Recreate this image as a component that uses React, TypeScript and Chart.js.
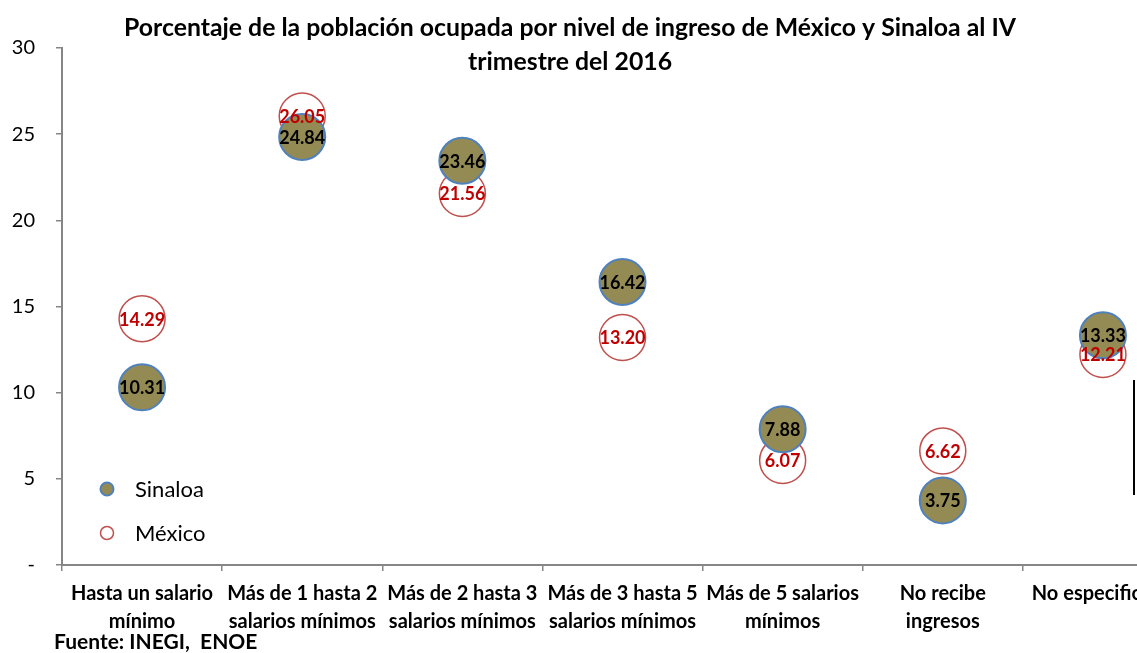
import React, { useEffect, useRef } from "react";
import { Chart, registerables } from "chart.js";
Chart.register(...registerables);

const categories: string[][] = [
  ["Hasta un salario", "mínimo"],
  ["Más de 1 hasta 2", "salarios mínimos"],
  ["Más de 2 hasta 3", "salarios mínimos"],
  ["Más de 3 hasta 5", "salarios mínimos"],
  ["Más de 5 salarios", "mínimos"],
  ["No recibe", "ingresos"],
  ["No especificado"],
];
const sinaloa = [10.31, 24.84, 23.46, 16.42, 7.88, 3.75, 13.33];
const mexico = [14.29, 26.05, 21.56, 13.2, 6.07, 6.62, 12.21];
const yTicks = [0, 5, 10, 15, 20, 25, 30];
const seriesNames = ["Sinaloa", "México"];
const titleLines = [
  "Porcentaje de la población ocupada por nivel de ingreso de México y Sinaloa al IV",
  "trimestre del 2016",
];
const sourceText = "Fuente: INEGI,  ENOE";

const FONT = "Lato, 'Open Sans', 'DejaVu Sans', sans-serif";
const OLIVE = "#948A54";
const BLUE = "#4F81BD";
const RED = "#C0504D";
const DARKRED = "#C00000";
const AXIS = "#868686";

const decorPlugin = {
  id: "decor",
  afterDatasetsDraw(chart: any) {
    const ctx = chart.ctx;
    ctx.save();
    ctx.textAlign = "center";
    ctx.textBaseline = "middle";
    ctx.font = `bold 18px ${FONT}`;
    const order = [1, 0];
    order.forEach((di) => {
      const meta = chart.getDatasetMeta(di);
      const vals = di === 0 ? sinaloa : mexico;
      ctx.fillStyle = di === 0 ? "#000000" : DARKRED;
      meta.data.forEach((el: any, i: number) => {
        ctx.fillText(vals[i].toFixed(2), el.x, el.y + 1);
      });
    });
    ctx.restore();
  },
  afterDraw(chart: any) {
    const ctx = chart.ctx;
    ctx.save();
    ctx.fillStyle = "#000";
    ctx.textAlign = "center";
    ctx.textBaseline = "middle";
    ctx.font = `bold 24.8px ${FONT}`;
    ctx.fillText(titleLines[0], 570, 28);
    ctx.fillText(titleLines[1], 570, 62);
    const items = [
      { y: 489, fill: OLIVE, stroke: BLUE, lw: 2 },
      { y: 533, fill: "#ffffff", stroke: RED, lw: 1.5 },
    ];
    items.forEach((it, i) => {
      ctx.beginPath();
      ctx.arc(107, it.y, 6.5, 0, Math.PI * 2);
      ctx.fillStyle = it.fill;
      ctx.fill();
      ctx.lineWidth = it.lw;
      ctx.strokeStyle = it.stroke;
      ctx.stroke();
      ctx.fillStyle = "#000";
      ctx.textAlign = "left";
      ctx.font = `22px ${FONT}`;
      ctx.fillText(seriesNames[i], 135, it.y + 1);
    });
    ctx.font = `bold 21px ${FONT}`;
    ctx.textAlign = "left";
    ctx.fillText(sourceText, 54, 642);
    ctx.beginPath();
    ctx.moveTo(1134, 380);
    ctx.lineTo(1134, 495);
    ctx.lineWidth = 2;
    ctx.strokeStyle = "#000";
    ctx.stroke();
    ctx.restore();
  },
};

function App() {
  const ref = useRef<HTMLCanvasElement | null>(null);
  useEffect(() => {
    if (!ref.current) return;
    const chart = new Chart(ref.current, {
      type: "bubble",
      data: {
        labels: categories as any,
        datasets: [
          {
            label: seriesNames[0],
            data: sinaloa.map((v, i) => ({ x: i, y: v, r: 23 })),
            backgroundColor: OLIVE,
            borderColor: BLUE,
            borderWidth: 2,
          },
          {
            label: seriesNames[1],
            data: mexico.map((v, i) => ({ x: i, y: v, r: 23 })),
            backgroundColor: "rgba(255,255,255,0)",
            borderColor: RED,
            borderWidth: 1.5,
          },
        ],
      },
      options: {
        responsive: false,
        animation: false,
        events: [],
        layout: { padding: { top: 48, left: 0, right: 37, bottom: 0 } },
        plugins: {
          legend: { display: false },
          title: { display: false },
          tooltip: { enabled: false },
        },
        scales: {
          x: {
            type: "category",
            offset: true,
            grid: {
              display: true,
              drawOnChartArea: false,
              offset: true,
              tickLength: 6,
              color: AXIS,
              lineWidth: 1.5,
            },
            border: { color: AXIS, width: 2 },
            ticks: {
              autoSkip: false,
              maxRotation: 0,
              minRotation: 0,
              color: "#000",
              padding: 9,
              font: { family: FONT, size: 20, weight: "bold", lineHeight: 1.4 },
            },
            afterFit: (s: any) => {
              s.height = 88;
            },
          } as any,
          y: {
            min: 0,
            max: 30,
            afterBuildTicks: (s: any) => {
              s.ticks = yTicks.map((v) => ({ value: v }));
            },
            grid: {
              display: true,
              drawOnChartArea: false,
              tickLength: 6,
              color: AXIS,
              lineWidth: 1.5,
            },
            border: { color: AXIS, width: 2 },
            ticks: {
              color: "#000",
              padding: 21,
              font: { family: FONT, size: 20 },
              callback: (v: any) => (Number(v) === 0 ? "-" : String(v)),
            },
            afterFit: (s: any) => {
              s.width = 62;
            },
          } as any,
        },
      },
      plugins: [decorPlugin],
    });
    return () => chart.destroy();
  }, []);
  return (
    <div
      style={{
        position: "absolute",
        left: 0,
        top: 0,
        width: 1137,
        height: 653,
        overflow: "hidden",
        background: "#fff",
      }}
    >
      <canvas ref={ref} width={1220} height={653} style={{ display: "block" }} />
    </div>
  );
}

export default App;
